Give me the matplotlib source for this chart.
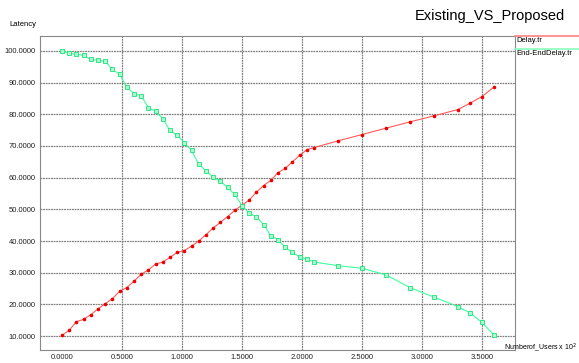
import matplotlib
matplotlib.use("Agg")
import matplotlib.pyplot as plt
from matplotlib.ticker import FormatStrFormatter

plt.rcParams['font.family'] = ['Liberation Sans', 'DejaVu Sans']

# --- Data ---
users = [0.00, 0.06, 0.12, 0.18, 0.24, 0.30, 0.36, 0.42, 0.48, 0.54,
         0.60, 0.66, 0.72, 0.78, 0.84, 0.90, 0.96, 1.02, 1.08, 1.14,
         1.20, 1.26, 1.32, 1.38, 1.44, 1.50, 1.56, 1.62, 1.68, 1.74,
         1.80, 1.86, 1.92, 1.98, 2.04, 2.10, 2.30, 2.50, 2.70, 2.90,
         3.10, 3.30, 3.40, 3.50, 3.60]

delay = [10.2, 11.8, 14.5, 15.3, 16.7, 18.6, 20.2, 21.8, 24.1, 25.3,
         27.3, 29.5, 30.9, 32.7, 33.4, 34.8, 36.4, 37.0, 38.4, 40.0,
         42.0, 44.1, 45.9, 47.7, 49.7, 51.3, 52.9, 55.4, 57.5, 59.1,
         61.6, 62.9, 65.0, 67.0, 68.8, 69.5, 71.6, 73.6, 75.6, 77.6,
         79.5, 81.5, 83.5, 85.6, 88.6]

end_end_delay = [100.0, 99.3, 98.9, 98.6, 97.3, 97.0, 96.7, 94.2, 92.6, 88.6,
                 86.5, 85.8, 82.1, 80.9, 78.6, 74.9, 73.4, 71.0, 68.6, 64.2,
                 62.2, 60.1, 58.9, 56.9, 54.7, 51.2, 48.8, 47.6, 45.2, 41.7,
                 40.4, 38.0, 36.4, 35.0, 34.3, 33.4, 32.2, 31.4, 29.3, 25.3,
                 22.3, 19.3, 17.3, 14.3, 10.3]

x_ticks = [0.0, 0.5, 1.0, 1.5, 2.0, 2.5, 3.0, 3.5]
y_ticks = [10, 20, 30, 40, 50, 60, 70, 80, 90, 100]

red = "#ff5a5a"
green = "#3dff9e"

fig = plt.figure(figsize=(5.79, 3.63), dpi=100)
ax = fig.add_axes([40 / 579, 13 / 363, 475 / 579, 314 / 363])

# --- Grid (vertical lines only from 0.5 on) ---
grid_kw = dict(color="#808080", lw=0.9, ls=(0, (1.5, 0.6)), zorder=1)
for x in x_ticks[1:]:
    ax.axvline(x, **grid_kw)
for y in y_ticks:
    ax.axhline(y, **grid_kw)

ax.plot(users, delay, color=red, lw=0.8, marker="o", ms=1.6,
        mfc="#ee0000", mec="#ee0000", zorder=3)
ax.plot(users, end_end_delay, color=green, lw=0.8, marker="s", ms=2.8,
        mfc="#a8ffd0", mec="#22dd77", mew=0.6, zorder=3)

ax.set_xlim(-0.183, 3.775)
ax.set_ylim(5.6, 104.7)
ax.set_xticks(x_ticks)
ax.set_yticks(y_ticks)
ax.xaxis.set_major_formatter(FormatStrFormatter("%.4f"))
ax.yaxis.set_major_formatter(FormatStrFormatter("%.4f"))
ax.tick_params(length=0, labelsize=5.5, colors="#222222", pad=3)
for s in ax.spines.values():
    s.set_color("#888888")
    s.set_linewidth(0.8)

# --- Texts ---
fig.text(9 / 579, 1 - 24 / 363, "Latency", fontsize=5.5, va="center", ha="left")
fig.text(415 / 579, 1 - 16 / 363, "Existing_VS_Proposed", fontsize=10.5,
         va="center", ha="left")
fig.text(577 / 579, 1 - 348 / 363, r"Numberof_Users x 10$^2$", fontsize=5.0,
         va="center", ha="right")

# --- Legend at the right edge ---
fig.add_artist(plt.Line2D([515 / 579, 1], [1 - 36.3 / 363] * 2,
                          color="#ff8080", lw=1.2, transform=fig.transFigure))
fig.add_artist(plt.Line2D([515 / 579, 1], [1 - 48.7 / 363] * 2,
                          color="#88ffbb", lw=1.2, transform=fig.transFigure))
fig.text(516 / 579, 1 - 40.8 / 363, "Delay.tr", fontsize=5.5, va="center")
fig.text(516 / 579, 1 - 53.2 / 363, "End-EndDelay.tr", fontsize=5.5, va="center")

fig.savefig("out.png", dpi=100)
